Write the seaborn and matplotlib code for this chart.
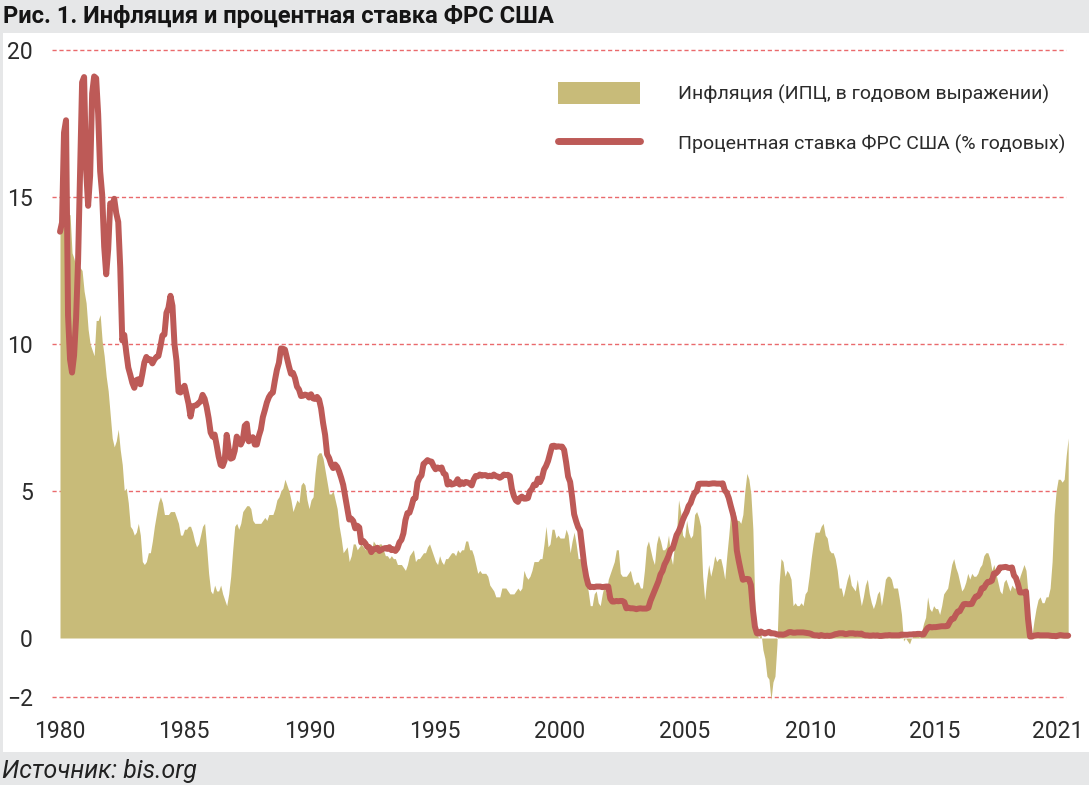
import numpy as np
import pandas as pd
import matplotlib
matplotlib.use("Agg")
import matplotlib.pyplot as plt
import seaborn as sns
from matplotlib import font_manager as fm
from matplotlib.patches import Rectangle, Patch
from matplotlib.lines import Line2D

# ---------------- data ----------------
title_text = "Рис. 1. Инфляция и процентная ставка ФРС США"
source_text = "Источник: bis.org"
legend_labels = ["Инфляция (ИПЦ, в годовом выражении)",
                 "Процентная ставка ФРС США (% годовых)"]

start_year = 1980  # monthly series starting January 1980

# CPI inflation, % y/y, monthly
cpi_yoy = [
    13.9, 14.2, 14.8, 14.7, 14.4, 14.4, 13.1, 12.9, 12.6, 12.8, 12.6, 12.5,  # 1980
    11.8, 11.4, 10.5, 10.0, 9.8, 9.6, 10.8, 10.8, 11.0, 10.1, 9.6, 8.9,      # 1981
    8.4, 7.6, 6.8, 6.5, 6.7, 7.1, 6.4, 5.9, 5.0, 5.1, 4.6, 3.8,              # 1982
    3.7, 3.5, 3.6, 3.9, 3.5, 2.6, 2.5, 2.6, 2.9, 2.9, 3.3, 3.8,              # 1983
    4.2, 4.6, 4.8, 4.6, 4.2, 4.2, 4.2, 4.3, 4.3, 4.3, 4.1, 3.9,              # 1984
    3.5, 3.5, 3.7, 3.7, 3.8, 3.8, 3.6, 3.3, 3.1, 3.2, 3.5, 3.8,              # 1985
    3.9, 3.1, 2.2, 1.6, 1.5, 1.8, 1.6, 1.6, 1.8, 1.5, 1.3, 1.1,              # 1986
    1.5, 2.1, 3.0, 3.8, 3.9, 3.7, 3.9, 4.3, 4.4, 4.5, 4.5, 4.4,              # 1987
    4.0, 3.9, 3.9, 3.9, 3.9, 4.0, 4.1, 4.0, 4.2, 4.2, 4.2, 4.4,              # 1988
    4.7, 4.8, 5.0, 5.1, 5.4, 5.2, 5.0, 4.7, 4.3, 4.5, 4.7, 4.6,              # 1989
    5.2, 5.3, 5.2, 4.7, 4.4, 4.7, 4.8, 5.6, 6.2, 6.3, 6.3, 6.1,              # 1990
    5.7, 5.3, 4.9, 4.9, 5.0, 4.7, 4.4, 3.8, 3.4, 2.9, 3.0, 3.1,              # 1991
    2.6, 2.8, 3.2, 3.2, 3.0, 3.1, 3.2, 3.1, 3.0, 3.2, 3.0, 2.9,              # 1992
    3.3, 3.2, 3.1, 3.2, 3.2, 3.0, 2.8, 2.8, 2.7, 2.8, 2.7, 2.7,              # 1993
    2.5, 2.5, 2.5, 2.4, 2.3, 2.5, 2.8, 2.9, 3.0, 2.6, 2.7, 2.7,              # 1994
    2.8, 2.9, 2.9, 3.1, 3.2, 3.0, 2.8, 2.6, 2.5, 2.8, 2.6, 2.5,              # 1995
    2.7, 2.7, 2.8, 2.9, 2.9, 2.8, 3.0, 2.9, 3.0, 3.0, 3.3, 3.3,              # 1996
    3.0, 3.0, 2.8, 2.5, 2.2, 2.3, 2.2, 2.2, 2.2, 2.1, 1.8, 1.7,              # 1997
    1.6, 1.4, 1.4, 1.4, 1.7, 1.7, 1.7, 1.6, 1.5, 1.5, 1.5, 1.6,              # 1998
    1.7, 1.6, 1.7, 2.3, 2.1, 2.0, 2.1, 2.3, 2.6, 2.6, 2.6, 2.7,              # 1999
    2.7, 3.2, 3.8, 3.1, 3.2, 3.7, 3.7, 3.4, 3.5, 3.4, 3.4, 3.4,              # 2000
    3.7, 3.5, 2.9, 3.3, 3.6, 3.2, 2.7, 2.7, 2.6, 2.1, 1.9, 1.6,              # 2001
    1.1, 1.1, 1.5, 1.6, 1.2, 1.1, 1.5, 1.8, 1.5, 2.0, 2.2, 2.4,              # 2002
    2.6, 3.0, 3.0, 2.2, 2.1, 2.1, 2.1, 2.2, 2.3, 2.0, 1.8, 1.9,              # 2003
    1.9, 1.7, 1.7, 2.3, 3.1, 3.3, 3.0, 2.7, 2.5, 3.2, 3.5, 3.3,              # 2004
    3.0, 3.0, 3.1, 3.5, 2.8, 2.5, 3.2, 3.6, 4.7, 4.3, 3.5, 3.4,              # 2005
    4.0, 3.6, 3.4, 3.5, 4.2, 4.3, 4.1, 3.8, 2.1, 1.3, 2.0, 2.5,              # 2006
    2.1, 2.4, 2.8, 2.6, 2.7, 2.7, 2.4, 2.0, 2.8, 3.5, 4.3, 4.1,              # 2007
    4.3, 4.0, 4.0, 3.9, 4.2, 5.0, 5.6, 5.4, 4.9, 3.7, 1.1, 0.1,              # 2008
    0.0, 0.2, -0.4, -0.7, -1.3, -1.4, -2.1, -1.5, -1.3, -0.2, 1.8, 2.7,      # 2009
    2.6, 2.1, 2.3, 2.2, 2.0, 1.1, 1.2, 1.1, 1.1, 1.2, 1.1, 1.5,              # 2010
    1.6, 2.1, 2.7, 3.2, 3.6, 3.6, 3.6, 3.8, 3.9, 3.5, 3.4, 3.0,              # 2011
    2.9, 2.9, 2.7, 2.3, 1.7, 1.7, 1.4, 1.7, 2.0, 2.2, 1.8, 1.7,              # 2012
    1.6, 2.0, 1.5, 1.1, 1.4, 1.8, 2.0, 1.5, 1.2, 1.0, 1.2, 1.5,              # 2013
    1.6, 1.1, 1.5, 2.0, 2.1, 2.1, 2.0, 1.7, 1.7, 1.7, 1.3, 0.8,              # 2014
    -0.1, 0.0, -0.1, -0.2, 0.0, 0.1, 0.2, 0.2, 0.0, 0.2, 0.5, 0.7,          # 2015
    1.4, 1.0, 0.9, 1.1, 1.0, 1.0, 0.8, 1.1, 1.5, 1.6, 1.7, 2.1,              # 2016
    2.5, 2.7, 2.4, 2.2, 1.9, 1.6, 1.7, 1.9, 2.2, 2.0, 2.2, 2.1,              # 2017
    2.1, 2.2, 2.4, 2.5, 2.8, 2.9, 2.9, 2.7, 2.3, 2.5, 2.2, 1.9,              # 2018
    1.6, 1.5, 1.9, 2.0, 1.8, 1.6, 1.8, 1.7, 1.7, 1.8, 2.1, 2.3,              # 2019
    2.5, 2.3, 1.5, 0.3, 0.1, 0.6, 1.0, 1.3, 1.4, 1.2, 1.2, 1.4,              # 2020
    1.4, 1.7, 2.6, 4.2, 5.0, 5.4, 5.4, 5.3, 5.4, 6.2, 6.8,                   # 2021
]

# Effective federal funds rate, % p.a., monthly
fed_funds = [
    13.82, 14.13, 17.19, 17.61, 10.98, 9.47, 9.03, 9.61, 10.87, 12.81, 15.85, 18.90,  # 1980
    19.08, 15.93, 14.70, 15.72, 18.52, 19.10, 19.04, 17.82, 15.87, 15.08, 13.31, 12.37,  # 1981
    13.22, 14.78, 14.68, 14.94, 14.45, 14.15, 12.59, 10.12, 10.31, 9.71, 9.20, 8.95,  # 1982
    8.68, 8.51, 8.77, 8.80, 8.63, 8.98, 9.37, 9.56, 9.45, 9.48, 9.34, 9.47,  # 1983
    9.56, 9.59, 9.91, 10.29, 10.32, 11.06, 11.23, 11.64, 11.30, 9.99, 9.43, 8.38,  # 1984
    8.35, 8.50, 8.58, 8.27, 7.97, 7.53, 7.88, 7.90, 7.92, 7.99, 8.05, 8.27,  # 1985
    8.14, 7.86, 7.48, 6.99, 6.85, 6.92, 6.56, 6.17, 5.89, 5.85, 6.04, 6.91,  # 1986
    6.43, 6.10, 6.13, 6.37, 6.85, 6.73, 6.58, 6.73, 7.22, 7.29, 6.69, 6.77,  # 1987
    6.83, 6.58, 6.58, 6.87, 7.09, 7.51, 7.75, 8.01, 8.19, 8.30, 8.35, 8.76,  # 1988
    9.12, 9.36, 9.85, 9.84, 9.81, 9.53, 9.24, 8.99, 9.02, 8.84, 8.55, 8.45,  # 1989
    8.23, 8.24, 8.28, 8.26, 8.18, 8.29, 8.15, 8.13, 8.20, 8.11, 7.81, 7.31,  # 1990
    6.91, 6.25, 6.12, 5.91, 5.78, 5.90, 5.82, 5.66, 5.45, 5.21, 4.81, 4.43,  # 1991
    4.03, 4.06, 3.98, 3.73, 3.82, 3.76, 3.25, 3.30, 3.22, 3.10, 3.09, 2.92,  # 1992
    3.02, 3.03, 3.07, 2.96, 3.00, 3.04, 3.06, 3.03, 3.09, 2.99, 3.02, 2.96,  # 1993
    3.05, 3.25, 3.34, 3.56, 4.01, 4.25, 4.26, 4.47, 4.73, 4.76, 5.29, 5.45,  # 1994
    5.53, 5.92, 5.98, 6.05, 6.01, 6.00, 5.85, 5.74, 5.80, 5.76, 5.80, 5.60,  # 1995
    5.56, 5.22, 5.31, 5.22, 5.24, 5.27, 5.40, 5.22, 5.30, 5.24, 5.31, 5.29,  # 1996
    5.25, 5.19, 5.39, 5.51, 5.50, 5.56, 5.52, 5.54, 5.54, 5.50, 5.52, 5.50,  # 1997
    5.56, 5.51, 5.49, 5.45, 5.49, 5.56, 5.54, 5.55, 5.51, 5.07, 4.83, 4.68,  # 1998
    4.63, 4.76, 4.81, 4.74, 4.74, 4.76, 4.99, 5.07, 5.22, 5.20, 5.42, 5.30,  # 1999
    5.45, 5.73, 5.85, 6.02, 6.27, 6.53, 6.54, 6.50, 6.52, 6.51, 6.51, 6.40,  # 2000
    5.98, 5.49, 5.31, 4.80, 4.21, 3.97, 3.77, 3.65, 3.07, 2.49, 2.09, 1.82,  # 2001
    1.73, 1.74, 1.73, 1.75, 1.75, 1.75, 1.73, 1.74, 1.75, 1.75, 1.34, 1.24,  # 2002
    1.24, 1.26, 1.25, 1.26, 1.26, 1.22, 1.01, 1.03, 1.01, 1.01, 1.00, 0.98,  # 2003
    1.00, 1.01, 1.00, 1.00, 1.00, 1.03, 1.26, 1.43, 1.61, 1.76, 1.93, 2.16,  # 2004
    2.28, 2.50, 2.63, 2.79, 3.00, 3.04, 3.26, 3.50, 3.62, 3.78, 4.00, 4.16,  # 2005
    4.29, 4.49, 4.59, 4.79, 4.94, 4.99, 5.24, 5.25, 5.25, 5.25, 5.25, 5.24,  # 2006
    5.25, 5.26, 5.26, 5.25, 5.25, 5.25, 5.26, 5.02, 4.94, 4.76, 4.49, 4.24,  # 2007
    3.94, 2.98, 2.61, 2.28, 1.98, 2.00, 2.01, 2.00, 1.81, 0.97, 0.39, 0.16,  # 2008
    0.15, 0.22, 0.18, 0.15, 0.18, 0.21, 0.16, 0.16, 0.15, 0.12, 0.12, 0.12,  # 2009
    0.11, 0.13, 0.16, 0.20, 0.20, 0.18, 0.18, 0.19, 0.19, 0.19, 0.19, 0.18,  # 2010
    0.17, 0.16, 0.14, 0.10, 0.09, 0.09, 0.07, 0.10, 0.08, 0.07, 0.08, 0.07,  # 2011
    0.08, 0.10, 0.13, 0.14, 0.16, 0.16, 0.16, 0.13, 0.14, 0.16, 0.16, 0.16,  # 2012
    0.14, 0.15, 0.14, 0.15, 0.11, 0.09, 0.09, 0.08, 0.08, 0.09, 0.08, 0.09,  # 2013
    0.07, 0.07, 0.08, 0.09, 0.09, 0.10, 0.09, 0.09, 0.09, 0.09, 0.09, 0.12,  # 2014
    0.11, 0.11, 0.11, 0.12, 0.12, 0.13, 0.13, 0.14, 0.14, 0.12, 0.12, 0.24,  # 2015
    0.34, 0.38, 0.36, 0.37, 0.37, 0.38, 0.39, 0.40, 0.40, 0.40, 0.41, 0.54,  # 2016
    0.65, 0.66, 0.79, 0.90, 0.91, 1.04, 1.15, 1.16, 1.15, 1.15, 1.16, 1.30,  # 2017
    1.41, 1.42, 1.51, 1.69, 1.70, 1.82, 1.91, 1.91, 1.95, 2.19, 2.20, 2.27,  # 2018
    2.40, 2.40, 2.41, 2.42, 2.39, 2.38, 2.40, 2.13, 2.04, 1.83, 1.55, 1.55,  # 2019
    1.55, 1.58, 0.65, 0.05, 0.05, 0.08, 0.09, 0.10, 0.09, 0.09, 0.09, 0.09,  # 2020
    0.09, 0.08, 0.07, 0.07, 0.06, 0.08, 0.10, 0.09, 0.08, 0.08, 0.08,        # 2021
]

ytick_values = [20, 15, 10, 5, 0, -2]
ytick_labels = ["20", "15", "10", "5", "0", "\u22122"]
grid_values = [20, 15, 10, 5, -2]
xtick_labels = ["1980", "1985", "1990", "1995", "2000", "2005", "2010", "2015", "2021"]

# ---------------- style ----------------
W, H = 1089, 785
FILL_C = "#c8bb79"
LINE_C = "#bd5a57"
GRID_C = "#ea6a6c"
BAND_C = "#e6e7e8"
TXT_C = "#2b2b2b"

sns.set_style("white")
names = {f.name for f in fm.fontManager.ttflist}
NARROW = "Liberation Sans Narrow" if "Liberation Sans Narrow" in names else "Roboto"
BODY = "Roboto" if "Roboto" in names else "DejaVu Sans"
plt.rcParams["font.family"] = [BODY, "DejaVu Sans"]

fig = plt.figure(figsize=(W / 100, H / 100), dpi=100)
fig.patch.set_facecolor(BAND_C)
fig.patches.append(Rectangle((3 / W, 1 - 752 / H), (W - 3) / W, (752 - 33) / H,
                             transform=fig.transFigure, facecolor="white",
                             edgecolor="none", zorder=-10))

# pixel geometry of the plot
PX_PER_YEAR = 24.1
X0_PX = 60.0          # pixel of January 1980
Y0_PX = 638.0         # pixel of 0 %
PX_PER_UNIT = 29.4
AX_L, AX_R, AX_T, AX_B = 52, 1080, 40, 705

def px_to_year(px):
    return start_year + (px - X0_PX) / PX_PER_YEAR

def py_to_val(py):
    return (Y0_PX - py) / PX_PER_UNIT

ax = fig.add_axes([AX_L / W, 1 - AX_B / H, (AX_R - AX_L) / W, (AX_B - AX_T) / H])
ax.set_zorder(5)
ax.set_facecolor("white")

n = len(cpi_yoy)
df = pd.DataFrame({
    "year": start_year + np.arange(n) / 12.0,
    "cpi": cpi_yoy,
    "rate": fed_funds,
})

for v in grid_values:
    ax.axhline(v, xmin=0, xmax=(1066 - AX_L) / (AX_R - AX_L), color=GRID_C,
               lw=1.0, ls=(0, (3, 2)), zorder=1)

ax.fill_between(df["year"], 0, df["cpi"], color=FILL_C, lw=0, zorder=2)
sns.lineplot(data=df, x="year", y="rate", ax=ax, color=LINE_C, lw=4.3,
             zorder=3, legend=False, solid_joinstyle="round",
             solid_capstyle="round")

ax.set_xlim(px_to_year(AX_L), px_to_year(AX_R))
ax.set_ylim(py_to_val(AX_B), py_to_val(AX_T))
for s in ax.spines.values():
    s.set_visible(False)
ax.set_xlabel("")
ax.set_ylabel("")

xtick_px = [60, 184, 310, 435, 560, 685, 811, 935, 1058]
ax.set_xticks([px_to_year(p) for p in xtick_px], xtick_labels)
ax.set_yticks(ytick_values, ytick_labels)
ax.tick_params(axis="x", length=0, pad=11, labelsize=16.5, labelcolor=TXT_C)
ax.tick_params(axis="y", length=0, pad=13.7, labelsize=16.5, labelcolor=TXT_C)

# legend
fs = 14.0
fs_px = fs * 100 / 72
handles = [Patch(facecolor=FILL_C, edgecolor="none"),
           Line2D([], [], color=LINE_C, lw=5.0)]
leg = ax.legend(handles, legend_labels, loc="upper left",
                bbox_to_anchor=(558 / W, 1 - 82 / H), bbox_transform=fig.transFigure,
                frameon=False, fontsize=fs, handlelength=82 / fs_px,
                handleheight=27 / fs_px, handletextpad=38 / fs_px,
                labelspacing=28 / fs_px, borderpad=0, borderaxespad=0,
                labelcolor=TXT_C)

# title and source
title = fig.text(3 / W, 1 - 17 / H, title_text, ha="left", va="center",
                 fontsize=18, fontweight="bold", family=[NARROW, "DejaVu Sans"],
                 color="#151515")
source = fig.text(2 / W, 1 - 771 / H, source_text, ha="left", va="center",
                  fontsize=16, fontstyle="italic", family=[NARROW, "DejaVu Sans"],
                  color="#222222")

renderer = fig.canvas.get_renderer()
for t, target in [(title, 553), (source, 195)]:
    w = t.get_window_extent(renderer).width
    t.set_fontsize(t.get_fontsize() * target / w)

fig.savefig("out.png", dpi=100, facecolor=fig.get_facecolor())
